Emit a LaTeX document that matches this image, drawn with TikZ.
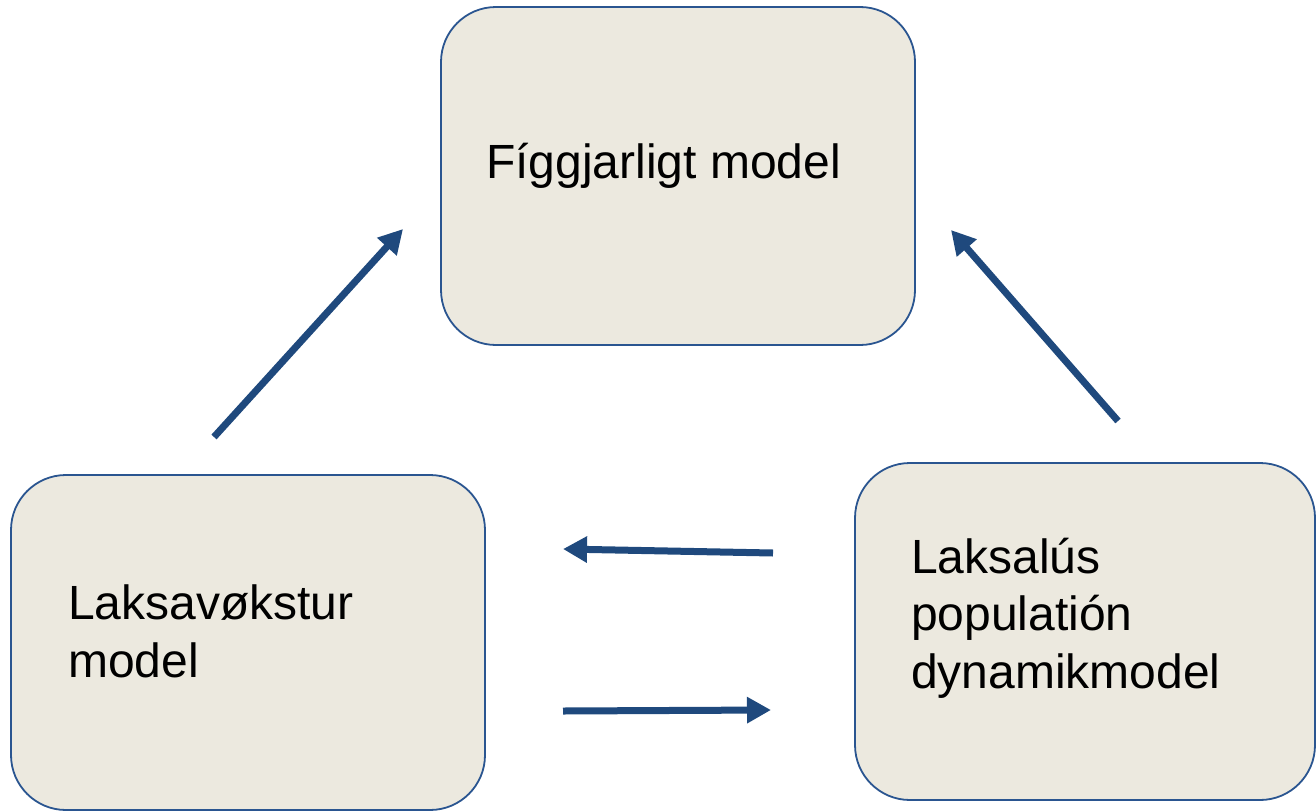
\documentclass[tikz,border=0pt]{standalone}
\usepackage{fontspec}
\setmainfont{Liberation Sans}
\usetikzlibrary{arrows.meta}
\definecolor{boxfill}{HTML}{ECE9DF}
\definecolor{boxline}{HTML}{2A5590}
\definecolor{arrowblue}{HTML}{1F497D}
\tikzset{
  modelbox/.style={draw=boxline, fill=boxfill, line width=1.8pt, rounded corners=55pt, inner sep=0pt},
  boxlabel/.style={anchor=base west, inner sep=0pt, font=\fontsize{48}{57.5}\selectfont, align=left, text=black},
  flow/.style={draw=arrowblue, line width=7pt, -{Triangle[length=24pt,width=25pt]}}
}
\begin{document}
\begin{tikzpicture}[x=1pt,y=-1pt]
\useasboundingbox (0,0) rectangle (1316,811);
% boxes
\node[modelbox, minimum width=474pt, minimum height=338pt] (fig) at (678,176) {};
\node[modelbox, minimum width=474pt, minimum height=335pt] (lax) at (248,642.5) {};
\node[modelbox, minimum width=460pt, minimum height=337pt] (lus) at (1085,631.5) {};
% labels (anchored at the baseline of the last line)
\node[boxlabel] (figt) at (486,178) {Fíggjarligt model};
\node[boxlabel] (laxt) at (68,677) {Laksavøkstur\\model};
\node[boxlabel] (lust) at (911,688) {Laksalús\\populatión\\dynamikmodel};
% arrow endpoints
\coordinate (a1s) at (214,437);
\coordinate (a1e) at (403,229);
\coordinate (a2s) at (1118,421);
\coordinate (a2e) at (951,230);
\coordinate (a3s) at (773,553);
\coordinate (a3e) at (563,549);
\coordinate (a4s) at (563,711);
\coordinate (a4e) at (771,710);
\draw[flow] (a1s) -- (a1e);
\draw[flow] (a2s) -- (a2e);
\draw[flow] (a3s) -- (a3e);
\draw[flow] (a4s) -- (a4e);
\end{tikzpicture}
\end{document}
